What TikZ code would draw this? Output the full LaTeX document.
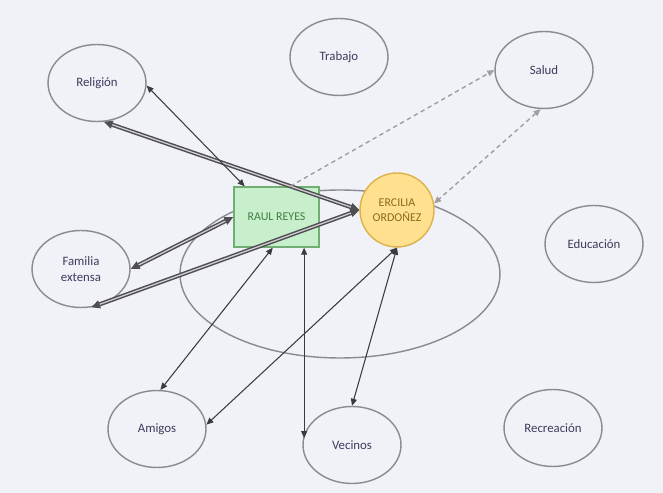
\documentclass[tikz,border=0pt]{standalone}
\usepackage{fontspec}
\setmainfont{Carlito}
\usetikzlibrary{shapes.geometric,arrows.meta}

\definecolor{fondo}{HTML}{F0F2F8}
\definecolor{borde}{HTML}{8A8A92}
\definecolor{texto}{HTML}{3C3C5C}
\definecolor{verde}{HTML}{C8EFCC}
\definecolor{verdeborde}{HTML}{72AE74}
\definecolor{verdetexto}{HTML}{3F7E43}
\definecolor{amarillo}{HTML}{FFE08E}
\definecolor{amarilloborde}{HTML}{DDB24A}
\definecolor{amarillotexto}{HTML}{8A6A1E}
\definecolor{flecha}{HTML}{3A3A40}

\begin{document}
\begin{tikzpicture}[x=0.02cm,y=-0.02cm,
	sistema/.style={ellipse,draw=borde,line width=0.8pt,fill=fondo,text=texto,
		minimum width=1.96cm,minimum height=1.54cm,inner sep=0pt,
		align=center,font=\fontsize{7.3}{8.8}\selectfont},
	vinculo/.style={flecha,line width=0.6pt,{Triangle[length=4pt,width=3.4pt]}-{Triangle[length=4pt,width=3.4pt]}},
	fuerte/.style={draw=flecha!90,line width=0.85pt,double=gray!35,double distance=0.7pt,
		{Triangle[length=5pt,width=4.6pt]}-{Triangle[length=5pt,width=4.6pt]}},
	debil/.style={gray!75,line width=0.8pt,dash pattern=on 2.5pt off 2pt}]
	
	\useasboundingbox (0,0) rectangle (663,493);
	\fill[fondo] (0,0) rectangle (663,493);
	
	% hogar
	\draw[borde,line width=0.8pt] (340,274) ellipse (3.2cm and 1.68cm);
	
	\node[sistema] (religion) at (97,83) {Religión};
	\node[sistema] (trabajo) at (339,57) {Trabajo};
	\node[sistema] (salud) at (544,70) {Salud};
	\node[sistema] (familia) at (81,269) {Familia\\extensa};
	\node[sistema] (educacion) at (594,244) {Educación};
	\node[sistema] (amigos) at (157,429) {Amigos};
	\node[sistema] (vecinos) at (352,445) {Vecinos};
	\node[sistema] (recreacion) at (553,428) {Recreación};
	
	\node[draw=verdeborde,fill=verde,text=verdetexto,line width=0.8pt,minimum width=1.7cm,minimum height=1.2cm,
		font=\fontsize{6.8}{8}\selectfont] (raul) at (276.5,217) {RAUL REYES};
	\node[circle,draw=amarilloborde,fill=amarillo,text=amarillotexto,line width=0.8pt,minimum size=1.48cm,inner sep=0pt,
		align=center,font=\fontsize{6.8}{8.4}\selectfont] (ercilia) at (397,210) {ERCILIA\\ORDOÑEZ};
	
	\draw[fuerte] (religion.-80) -- (ercilia.west);
	\draw[fuerte] (familia.-75) -- (ercilia.west);
	\draw[fuerte] (familia.east) -- (raul.west);
	
	\draw[vinculo] (religion.-3) -- (raul.136);
	\draw[vinculo] (raul.-97) -- (amigos.85);
	\draw[vinculo] (raul.-48.5) -- (raul.-48.5 |- vecinos.172);
	\draw[vinculo] (ercilia.south) -- (amigos.5);
	\draw[vinculo] (ercilia.south) -- (vecinos.north);
	
	\draw[debil,-{Triangle[length=4pt,width=3.4pt]}] (raul.66) -- (salud.west);
	\draw[debil,{Triangle[length=4pt,width=3.4pt]}-{Triangle[length=4pt,width=3.4pt]}] (salud.-95) -- (ercilia.10);
	
\end{tikzpicture}
\end{document}
